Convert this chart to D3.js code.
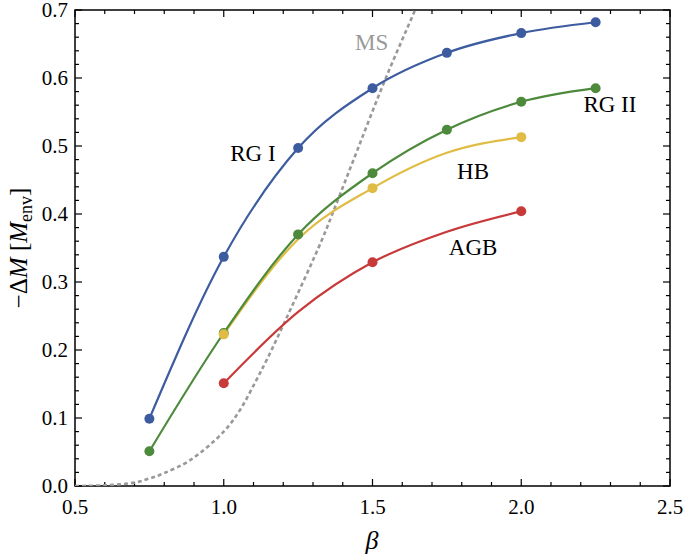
<!DOCTYPE html>
<html><head><meta charset="utf-8">
<script src="https://cdn.jsdelivr.net/npm/d3@7"></script>
<style>body{margin:0;background:#fff}</style>
</head><body><svg id="c" width="685" height="556"></svg>
<script>
const beta = [0.75, 1.0, 1.25, 1.5, 1.75, 2.0, 2.25];
const rg1 = [0.099, 0.337, 0.497, 0.585, 0.637, 0.666, 0.682];
const rg2 = [0.051, 0.225, 0.370, 0.460, 0.524, 0.565, 0.585];
const betaHB = [1.0, 1.5, 2.0];
const hb = [0.223, 0.438, 0.513];
const agb = [0.151, 0.329, 0.404];
// curve values read along the HB / AGB lines (markers only at betaHB)
const betaCurve = [1.0, 1.25, 1.5, 1.75, 2.0];
const hbCurve = [0.223, 0.363, 0.438, 0.490, 0.513];
const agbCurve = [0.151, 0.256, 0.329, 0.374, 0.404];
const msBeta = [0.5, 0.6, 0.7, 0.75, 0.8, 0.887, 1.0, 1.055, 1.105, 1.145, 1.213, 1.33, 1.374, 1.45, 1.542, 1.643, 1.7];
const msVal  = [0.0, 0.001, 0.005, 0.011, 0.019, 0.038, 0.08, 0.112, 0.152, 0.186, 0.249, 0.362, 0.41, 0.495, 0.597, 0.70, 0.76];
const xTicks = [0.5, 1.0, 1.5, 2.0, 2.5];
const yTicks = [0.0, 0.1, 0.2, 0.3, 0.4, 0.5, 0.6, 0.7];

const svg = d3.select('#c');
const L = 75, R = 670, T = 10, B = 486;
const x = d3.scaleLinear().domain([0.5, 2.5]).range([L, R]);
const y = d3.scaleLinear().domain([0, 0.7]).range([B, T]);
const font = "'Liberation Serif','Times New Roman',serif";

svg.append('defs').append('clipPath').attr('id','clip')
  .append('rect').attr('x',L).attr('y',T).attr('width',R-L).attr('height',B-T);

svg.append('rect').attr('x',L).attr('y',T).attr('width',R-L).attr('height',B-T)
  .attr('fill','none').attr('stroke','#000').attr('stroke-width',1.5);

const xMinor = d3.range(5, 26).map(d => d/10);
const yMinor = d3.range(0, 36).map(d => d/50);
const g = svg.append('g').attr('stroke','#000').attr('stroke-width',1.2);
xMinor.forEach(v => {
  const major = Math.abs(v*2 - Math.round(v*2)) < 1e-6;
  const len = major ? 7 : 4;
  g.append('line').attr('x1',x(v)).attr('x2',x(v)).attr('y1',B).attr('y2',B-len);
  g.append('line').attr('x1',x(v)).attr('x2',x(v)).attr('y1',T).attr('y2',T+len);
});
yMinor.forEach(v => {
  const major = Math.abs(v*10 - Math.round(v*10)) < 1e-6;
  const len = major ? 7 : 4;
  g.append('line').attr('y1',y(v)).attr('y2',y(v)).attr('x1',L).attr('x2',L+len);
  g.append('line').attr('y1',y(v)).attr('y2',y(v)).attr('x1',R).attr('x2',R-len);
});

svg.append('g').selectAll('text').data(xTicks).join('text')
  .attr('x', d => x(d)).attr('y', B + 28).attr('text-anchor','middle')
  .attr('font-family', font).attr('font-size', 21).text(d => d.toFixed(1));
svg.append('g').selectAll('text').data(yTicks).join('text')
  .attr('x', L - 7).attr('y', d => y(d) + 7).attr('text-anchor','end')
  .attr('font-family', font).attr('font-size', 21).text(d => d.toFixed(1));

svg.append('text').attr('x', 372).attr('y', 549).attr('text-anchor','middle')
  .attr('font-family', font).attr('font-size', 26).attr('font-style','italic').text('β');
const yt = svg.append('text').attr('transform','translate(27,248) rotate(-90)')
  .attr('text-anchor','middle').attr('font-family', font).attr('font-size', 25);
yt.append('tspan').text('−Δ');
yt.append('tspan').attr('font-style','italic').text('M');
yt.append('tspan').text(' [');
yt.append('tspan').attr('font-style','italic').text('M');
yt.append('tspan').attr('font-size', 18).attr('dy', 5).text('env');
yt.append('tspan').attr('dy', -5).text(']');

const plot = svg.append('g').attr('clip-path','url(#clip)');
const line = d3.line().x(d => x(d[0])).y(d => y(d[1])).curve(d3.curveMonotoneX);

plot.append('path').datum(msBeta.map((b,i)=>[b,msVal[i]]))
  .attr('d', d3.line().x(d => x(d[0])).y(d => y(d[1])).curve(d3.curveCatmullRom))
  .attr('fill','none').attr('stroke','#999').attr('stroke-width',2.6).attr('stroke-dasharray','4,3');

const cBlue = '#3d5ca0', cGreen = '#4d8a3c', cYellow = '#e0bc45', cRed = '#c83a3a';
const lines = [
  {bx: beta, v: rg1, c: cBlue},
  {bx: betaCurve, v: agbCurve, c: cRed},
  {bx: betaCurve, v: hbCurve, c: cYellow},
  {bx: beta, v: rg2, c: cGreen}
];
lines.forEach(s => {
  const pts = s.bx.map((b,i)=>[b, s.v[i]]);
  plot.append('path').datum(pts).attr('d', line).attr('fill','none')
    .attr('stroke', s.c).attr('stroke-width', 2.2);
});
const marks = [
  {bx: beta, v: rg1, c: cBlue},
  {bx: betaHB, v: agb, c: cRed},
  {bx: beta, v: rg2, c: cGreen},
  {bx: betaHB, v: hb, c: cYellow}
];
marks.forEach(s => {
  const pts = s.bx.map((b,i)=>[b, s.v[i]]);
  svg.append('g').selectAll('circle').data(pts).join('circle')
    .attr('cx', d => x(d[0])).attr('cy', d => y(d[1])).attr('r', 5).attr('fill', s.c);
});

const labels = [
  {t:'MS', b:1.497, v:0.641, c:'#999'},
  {t:'RG I', b:1.098, v:0.478, c:'#000'},
  {t:'RG II', b:2.298, v:0.55, c:'#000'},
  {t:'HB', b:1.838, v:0.451, c:'#000'},
  {t:'AGB', b:1.838, v:0.340, c:'#000'}
];
svg.append('g').selectAll('text').data(labels).join('text')
  .attr('x', d => x(d.b)).attr('y', d => y(d.v)).attr('text-anchor','middle')
  .attr('font-family', font).attr('font-size', 23).attr('fill', d => d.c).text(d => d.t);
</script></body></html>
